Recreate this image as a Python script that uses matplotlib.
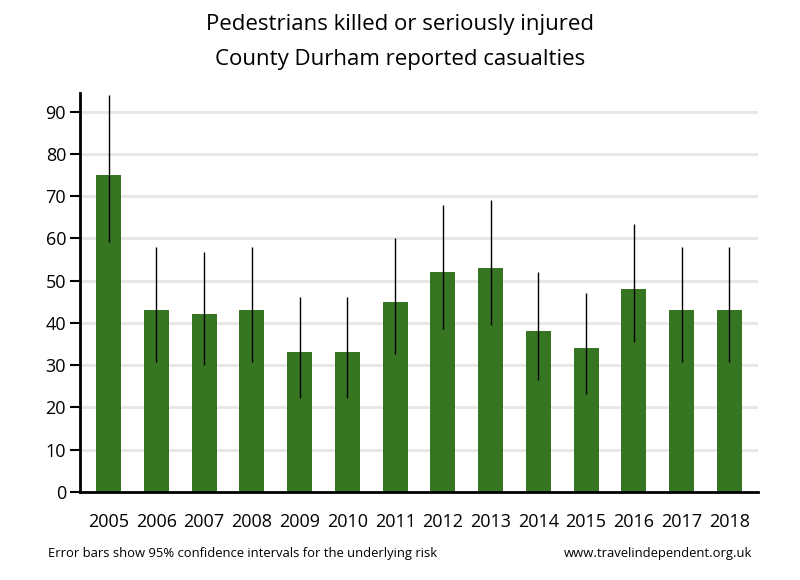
import matplotlib.pyplot as plt

# valores
anos = ['2005', '2006', '2007', '2008', '2009', '2010', '2011',
        '2012', '2013', '2014', '2015', '2016', '2017', '2018']
vitimas = [75, 43, 42, 43, 33, 33, 45, 52, 53, 38, 34, 48, 43, 43]
ic_inferior = [59.1, 30.7, 30.0, 30.7, 22.2, 22.2, 32.7, 38.6, 39.5, 26.5, 23.2, 35.4, 30.7, 30.7]
ic_superior = [94.0, 57.9, 56.7, 57.9, 46.1, 46.1, 60.0, 68.0, 69.2, 52.0, 47.2, 63.5, 57.9, 57.9]

plt.rcParams['font.family'] = ['Open Sans', 'DejaVu Sans']

fig = plt.figure(figsize=(8, 5.8), dpi=100)
ax = fig.add_axes([0.1, 0.152, 0.8475, 0.688])

erro = [[v - lo for v, lo in zip(vitimas, ic_inferior)],
        [hi - v for v, hi in zip(vitimas, ic_superior)]]

x = range(len(anos))
ax.bar(x, vitimas, width=0.52, color='#367521', zorder=2)
ax.errorbar(x, vitimas, yerr=erro, fmt='none', ecolor='black', elinewidth=1, capsize=0, zorder=3)

ax.set_xlim(-0.6, len(anos) - 0.4)
ax.set_ylim(0, 94.5)
ax.set_yticks(range(0, 100, 10))
ax.set_xticks(list(x))
ax.set_xticklabels(anos)
ax.yaxis.grid(True, color='#e6e6e6', linewidth=2, zorder=0)
ax.set_axisbelow(True)

for lado in ['top', 'right']:
    ax.spines[lado].set_visible(False)
ax.spines['left'].set_linewidth(2)
ax.spines['bottom'].set_linewidth(2)
ax.tick_params(axis='y', direction='out', length=7, width=1.5, labelsize=13, pad=3)
ax.tick_params(axis='x', length=0, labelsize=13, pad=15)

fig.text(0.5, 0.957, 'Pedestrians killed or seriously injured', ha='center', va='center', fontsize=16)
fig.text(0.5, 0.897, 'County Durham reported casualties', ha='center', va='center', fontsize=16)
fig.text(0.06, 0.045, 'Error bars show 95% confidence intervals for the underlying risk', ha='left', va='center', fontsize=9.4)
fig.text(0.94, 0.045, 'www.travelindependent.org.uk', ha='right', va='center', fontsize=9.4)

fig.savefig('out.png', dpi=100)
